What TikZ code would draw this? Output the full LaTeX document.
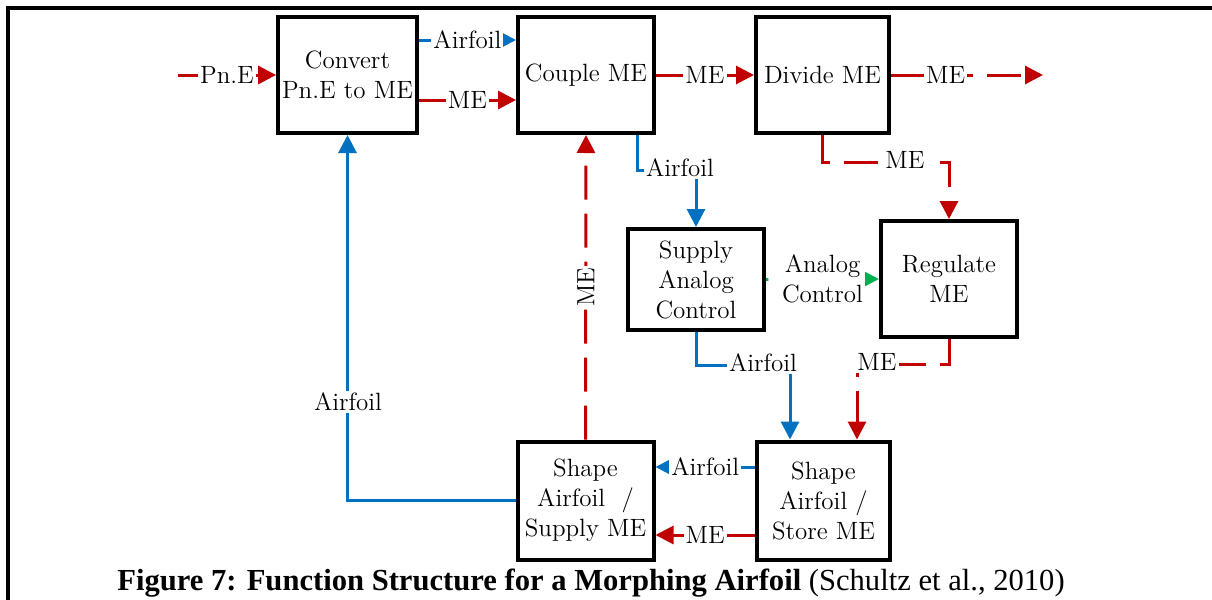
\documentclass[tikz,border=0pt]{standalone}
\usepackage{fontspec}
\newfontfamily\capfont{Liberation Serif}
\usetikzlibrary{arrows.meta}
\usetikzlibrary{positioning}
\usetikzlibrary{calc}
\definecolor{mered}{RGB}{192,0,0}
\definecolor{airblue}{RGB}{0,112,192}
\definecolor{ctrlgreen}{RGB}{0,176,80}
\newcommand{\boxfont}{\fontsize{12.5}{15}\selectfont}
\tikzstyle{func}=[draw,line width=2pt,align=center,inner sep=2pt,font=\boxfont]
\tikzstyle{flow}=[line width=1.5pt,-{Triangle[length=9pt,width=9pt]}]
\tikzstyle{meflow}=[flow,mered,dash pattern=on 17pt off 7pt]
\tikzstyle{airflow}=[flow,airblue]
\tikzstyle{ctrlflow}=[flow,ctrlgreen,dash pattern=on 1.2pt off 8pt]
\tikzstyle{weight}=[fill=white,text=black,inner sep=1pt,font=\boxfont]

\begin{document}
\begin{tikzpicture}[x=0.5pt,y=-0.5pt]

  \useasboundingbox (0,0) rectangle (1212,600);
  \draw[line width=1.8pt] (8,600) -- (8,8) -- (1212,8);

  % function boxes
  \foreach \x/\y/\w/\h/\name/\label in {347.5/75/66.5/58/convert/{Convert\\Pn.E to ME}, 586/75/68/58/couple/{Couple ME}, 822.5/75/66.5/58/divide/{Divide ME}, 696/279.5/68/50.5/supply/{Supply\\Analog\\Control}, 949/279/68/58/regulate/{Regulate\\ME}, 585.5/500.5/68/59/shapeS/{Shape\\Airfoil~~/\\Supply ME}, 823.5/500.5/66.5/59/shapeT/{Shape\\Airfoil /\\Store ME}}
     \node[func,minimum width=\w pt,minimum height=\h pt] (\name) at (\x,\y) {\label};

  \coordinate (pne) at (178,75);
  \coordinate (out) at (1043,75);

  % straight flows
  \draw[meflow] (pne) -- node[weight] {Pn.E} (convert.west);
  \draw[airflow] (convert.east |- 0,40) -- node[weight] {Airfoil} (couple.west |- 0,40);
  \draw[meflow] (convert.east |- 0,100) -- node[weight] {ME} (couple.west |- 0,100);
  \draw[meflow] (couple.east) -- node[weight] {ME} (divide.west);
  \draw[meflow] (divide.east) -- node[weight,pos=0.36] {ME} (out);
  \draw[ctrlflow] (supply.east) -- node[weight,align=center] {Analog\\Control} (regulate.west);
  \draw[airflow] (shapeT.west |- 0,467) -- node[weight] {Airfoil} (shapeS.east |- 0,467);
  \draw[meflow] (shapeT.west |- 0,535) -- node[weight] {ME} (shapeS.east |- 0,535);
  \draw[meflow] (shapeS.north) -- node[weight,rotate=90] {ME} (couple.south);

  % bent flows
  \draw[meflow] (divide.south) -- ++(0,27) -| (regulate.north);
  \draw[airflow] (couple.south -| 637,0) -- ++(0,35) -| (supply.north);
  \draw[airflow] (supply.south) -- ++(0,33) -| (shapeT.north -| 790,0);
  \draw[meflow] (regulate.south) -- ++(0,25) -| (shapeT.north -| 857,0);
  \draw[airflow] (shapeS.west) -| (convert.south);

  \node[weight] (l1) at (905,160) {ME};
  \node[weight] (l2) at (680,168) {Airfoil};
  \node[weight] (l3) at (763,363) {Airfoil};
  \node[weight] (l4) at (877,362) {ME};
  \node[weight] (l5) at (348,402) {Airfoil};

  \node[font=\capfont\fontsize{15.3}{18}\selectfont] (caption) at (591,583) {\textbf{Figure 7: Function Structure for a Morphing Airfoil} (Schultz et al., 2010)};

\end{tikzpicture}
\end{document}
